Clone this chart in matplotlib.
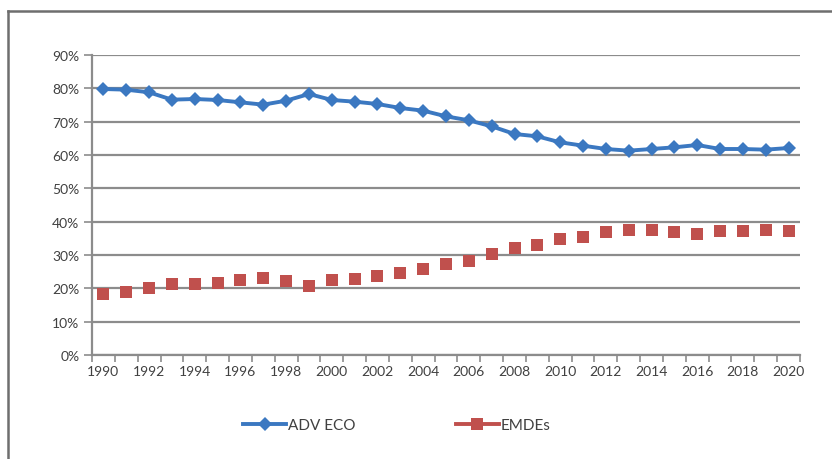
import matplotlib
matplotlib.use("Agg")
import matplotlib.pyplot as plt
from matplotlib.lines import Line2D
from matplotlib.ticker import FixedLocator, FuncFormatter

years = list(range(1990, 2021))
adv_eco = [79.8, 79.6, 78.8, 76.6, 76.8, 76.5, 75.8, 75.1, 76.3, 78.3,
           76.5, 76.0, 75.3, 74.1, 73.3, 71.6, 70.4, 68.6, 66.3, 65.6,
           63.8, 62.8, 61.8, 61.3, 61.8, 62.3, 63.0, 61.8, 61.8, 61.6, 62.1]
emdes = [18.2, 19.0, 20.2, 21.2, 21.4, 21.7, 22.5, 23.2, 22.2, 20.7,
         22.4, 22.9, 23.7, 24.7, 25.9, 27.2, 28.2, 30.2, 32.2, 32.9,
         34.7, 35.5, 37.0, 37.5, 37.4, 37.0, 36.2, 37.2, 37.2, 37.5, 37.2]
y_ticks = [0, 10, 20, 30, 40, 50, 60, 70, 80, 90]
x_label_years = list(range(1990, 2021, 2))
series_names = ["ADV ECO", "EMDEs"]

BLUE = "#3b78c1"
RED = "#c0504d"
GRID = "#8c8c8c"
TXT = "#404040"
FONT = "Lato"

fig = plt.figure(figsize=(8.32, 4.6), dpi=100)
ax = fig.add_axes([92 / 832, 1 - 356 / 460, (800 - 92) / 832, (356 - 56) / 460])

ax.plot(years, adv_eco, color=BLUE, lw=2.8, marker="D", markersize=7.2,
        markeredgewidth=0, zorder=3)
ax.plot(years, emdes, linestyle="none", color=RED, marker="s", markersize=8.5,
        markeredgewidth=0, zorder=3)

ax.set_xlim(years[0] - 0.5, years[-1] + 0.5)
ax.set_ylim(y_ticks[0], y_ticks[-1])

ax.yaxis.set_major_locator(FixedLocator(y_ticks))
ax.yaxis.set_major_formatter(FuncFormatter(lambda v, p: f"{v:.0f}%"))
ax.xaxis.set_major_locator(FixedLocator(x_label_years))
ax.xaxis.set_major_formatter(FuncFormatter(lambda v, p: f"{v:.0f}"))
ax.xaxis.set_minor_locator(FixedLocator([y - 0.5 for y in years] + [years[-1] + 0.5]))

ax.grid(axis="y", color=GRID, lw=1.6, zorder=1)
ax.set_axisbelow(True)
for s in ["top", "right"]:
    ax.spines[s].set_visible(False)
for s in ["left", "bottom"]:
    ax.spines[s].set_color(GRID)
    ax.spines[s].set_linewidth(1.6)

ax.tick_params(axis="y", direction="out", length=6, width=1.2, color=GRID,
               labelsize=10, labelcolor=TXT, pad=3)
ax.tick_params(axis="x", which="major", length=0, labelsize=10, labelcolor=TXT, pad=7)
ax.tick_params(axis="x", which="minor", direction="out", length=5, width=1.2, color=GRID)
for lab in ax.get_xticklabels() + ax.get_yticklabels():
    lab.set_fontfamily(FONT)

handles = [Line2D([], [], color=BLUE, lw=2.8, marker="D", markersize=7.2, markeredgewidth=0),
           Line2D([], [], color=RED, lw=2.8, marker="s", markersize=8.5, markeredgewidth=0)]
leg = fig.legend(handles, series_names, loc="center", bbox_to_anchor=(0.477, 0.073),
                 ncol=2, frameon=False, handlelength=2.8, handletextpad=0.1,
                 columnspacing=6.6, prop={"family": FONT, "size": 11})
for t in leg.get_texts():
    t.set_color(TXT)

# outer frame
fig.add_artist(Line2D([8 / 832, 8 / 832], [0, 1 - 12 / 460], transform=fig.transFigure,
                      color="#6e6e6e", lw=1.8))
fig.add_artist(Line2D([8 / 832, 1], [1 - 12 / 460, 1 - 12 / 460], transform=fig.transFigure,
                      color="#6e6e6e", lw=1.8))

fig.savefig("out.png", dpi=100, facecolor="white")
